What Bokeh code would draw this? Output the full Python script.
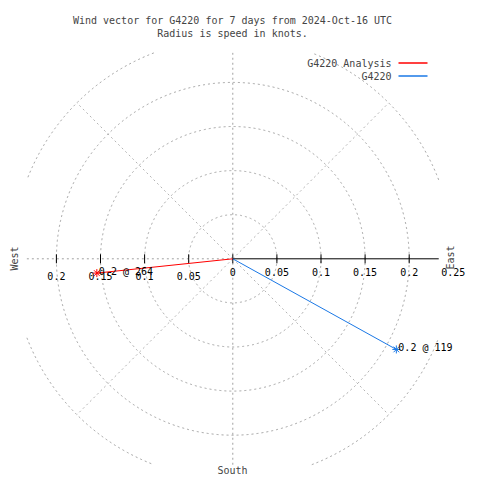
import numpy as np
from bokeh.plotting import figure
from bokeh.models import Range1d, Label
from bokeh.core.properties import value
from bokeh.embed import file_html
from bokeh.resources import INLINE

# ---- data ----
title_lines = ["Wind vector for G4220 for 7 days from 2024-Oct-16 UTC",
               "Radius is speed in knots."]
series_names = ["G4220 Analysis", "G4220"]
series_colors = ["#ff0000", "#1a78e6"]
speeds = [0.155, 0.212]          # knots
directions = [264, 119]          # degrees, clockwise from north
right_ticks = [0, 0.05, 0.1, 0.15, 0.2, 0.25]
right_tick_labels = ["0", "0.05", "0.1", "0.15", "0.2", "0.25"]
left_ticks = [0.2, 0.15, 0.1, 0.05]
left_tick_labels = ["0.2", "0.15", "0.1", "0.05"]
tick_marks = [-0.2, -0.15, -0.1, -0.05, 0, 0.05, 0.1, 0.15, 0.2]
grid_radii = [0.05, 0.1, 0.15, 0.2, 0.25]
grid_angles = [45, 135, 225, 315]
compass_labels = ["West", "East", "South"]

# ---- layout helpers (page pixels -> data) ----
S = 882.0
PCX, PCY = 232.3, 258.3
def dx(X):
    return (X - PCX) / S
def dy(Y):
    return (PCY - Y) / S
B = 0.2335
FONTNAME = "DejaVu Sans Mono"
FONT = value(FONTNAME)
FS = "10px"

p = figure(width=480, height=480,
           x_range=Range1d(dx(0), dx(480)), y_range=Range1d(dy(480), dy(0)),
           output_backend="svg", toolbar_location=None,
           x_axis_location=None, y_axis_location=None,
           min_border=0, outline_line_color=None)
p.grid.visible = False
p.title.visible = False
p.background_fill_color = "white"

GRAY = "#a0a0a0"
DASH = "2 3"
# grid circles clipped to square plot area
th = np.linspace(0, 2 * np.pi, 1441)
for r in grid_radii:
    x = r * np.cos(th)
    y = r * np.sin(th)
    mask = (np.abs(x) > B) | (np.abs(y) > B)
    x = np.where(mask, np.nan, x)
    y = np.where(mask, np.nan, y)
    p.line(x, y, line_color=GRAY, line_dash=DASH, line_width=1)
# radial lines
for a in grid_angles:
    rr = grid_radii[-1]
    p.line([0, rr * np.cos(np.radians(a))], [0, rr * np.sin(np.radians(a))],
           line_color="#b4b4b4", line_dash=DASH, line_width=1)
p.line([-B, 0], [0, 0], line_color=GRAY, line_dash=DASH, line_width=1)
p.line([0, 0], [-B, B], line_color=GRAY, line_dash=DASH, line_width=1)

# solid radial axis to the east
p.line([0, B], [0, 0], line_color="black", line_width=1)
tk = 4.5 / S
p.segment(x0=tick_marks, y0=[-tk] * len(tick_marks), x1=tick_marks, y1=[tk] * len(tick_marks),
          line_color="black", line_width=1)

# tick labels
p.text(x=right_ticks, y=[dy(271)] * len(right_ticks), text=right_tick_labels,
       text_font=FONT, text_font_size=FS, text_align="center", text_baseline="middle",
       text_color="black")
p.text(x=[-t for t in left_ticks], y=[dy(275)] * len(left_ticks), text=left_tick_labels,
       text_font=FONT, text_font_size=FS, text_align="center", text_baseline="middle",
       text_color="black")

# compass labels
p.add_layout(Label(x=dx(14), y=dy(258), text=compass_labels[0], angle=np.pi / 2,
                   text_font=FONTNAME, text_font_size=FS, text_align="center", text_baseline="middle"))
p.add_layout(Label(x=dx(450), y=dy(257), text=compass_labels[1], angle=np.pi / 2,
                   text_font=FONTNAME, text_font_size=FS, text_align="center", text_baseline="middle"))
p.add_layout(Label(x=dx(232), y=dy(470), text=compass_labels[2],
                   text_font=FONTNAME, text_font_size=FS, text_align="center", text_baseline="middle"))

# series
for name, col, s, d in zip(series_names, series_colors, speeds, directions):
    x = s * np.sin(np.radians(d))
    y = s * np.cos(np.radians(d))
    p.line([0, x], [0, y], line_color=col, line_width=1)
    p.scatter([x], [y], marker="asterisk", size=8, line_color=col, line_width=1)
    p.text(x=[x], y=[y], text=[f"{s:.1f} @ {d}"], x_offset=2, y_offset=-1.5,
           text_font=FONT, text_font_size=FS, text_align="left", text_baseline="middle",
           text_color="black")

# title
for i, t in enumerate(title_lines):
    p.add_layout(Label(x=dx(232), y=dy(20 + 13 * i), text=t, text_font=FONTNAME, text_font_size=FS,
                       text_align="center", text_baseline="middle"))

# legend (text right aligned, sample line to the right)
for i, (name, col) in enumerate(zip(series_names, series_colors)):
    yy = 63 + 13 * i
    p.add_layout(Label(x=dx(391), y=dy(yy), text=name, text_font=FONTNAME, text_font_size=FS,
                       text_align="right", text_baseline="middle"))
    p.segment(x0=[dx(398)], y0=[dy(yy - 0.5)], x1=[dx(427)], y1=[dy(yy - 0.5)],
              line_color=col, line_width=1.5)

open("out.html", "w").write(file_html(p, INLINE))
